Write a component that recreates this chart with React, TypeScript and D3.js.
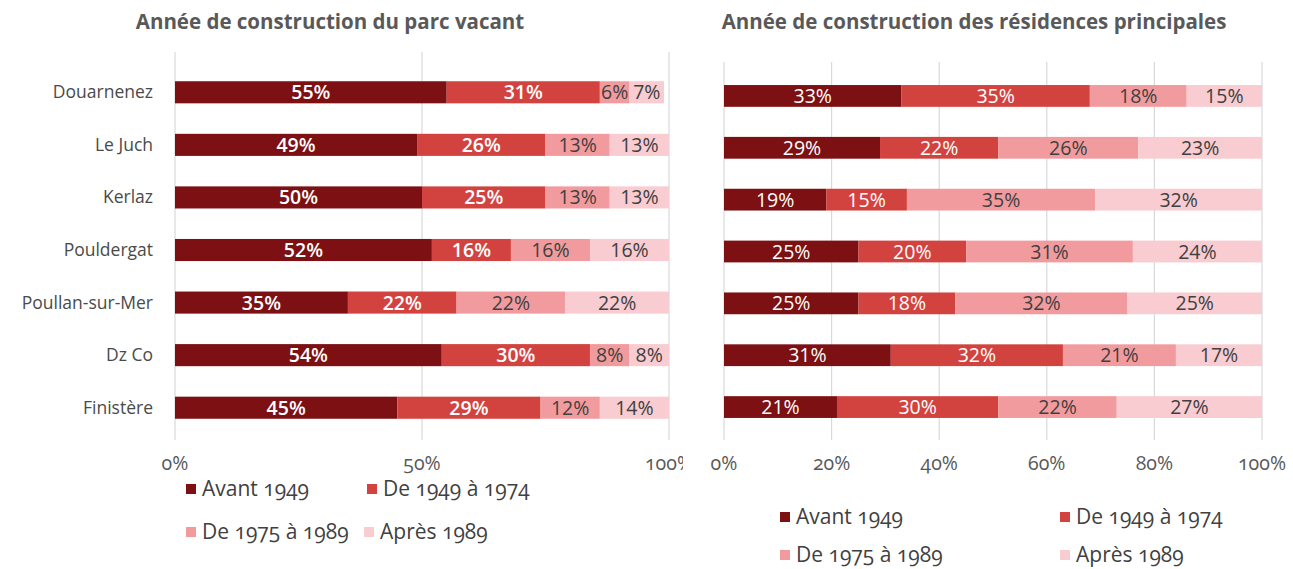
import * as d3 from 'd3'

const categories = ['Douarnenez', 'Le Juch', 'Kerlaz', 'Pouldergat', 'Poullan-sur-Mer', 'Dz Co', 'Finistère']
const seriesNames = ['Avant 1949', 'De 1949 à 1974', 'De 1975 à 1989', 'Après 1989']

// parc vacant
const vacantAvant1949 = [55, 49, 50, 52, 35, 54, 45]
const vacant1949to1974 = [31, 26, 25, 16, 22, 30, 29]
const vacant1975to1989 = [6, 13, 13, 16, 22, 8, 12]
const vacantApres1989 = [7, 13, 13, 16, 22, 8, 14]

// résidences principales
const princAvant1949 = [33, 29, 19, 25, 25, 31, 21]
const princ1949to1974 = [35, 22, 15, 20, 18, 32, 30]
const princ1975to1989 = [18, 26, 35, 31, 32, 21, 22]
const princApres1989 = [15, 23, 32, 24, 25, 17, 27]

const leftTicks = [0, 50, 100]
const rightTicks = [0, 20, 40, 60, 80, 100]

const colors = ['#7c1012', '#d2433f', '#f29b9e', '#f8ccd0']
const labelColors = ['#ffffff', '#ffffff', '#404040', '#404040']
const FONT = "'Open Sans', 'DejaVu Sans', sans-serif"

interface LegendPos { x: number; y: number }

interface PanelProps {
  title: string
  titleX: number
  series: number[][]
  ticks: number[]
  xRange: [number, number]
  yRange: [number, number]
  gridTop: number
  boldFirst: boolean
  showCategories: boolean
  legend: LegendPos[]
  clipRight?: number
  id: string
}

function Panel(p: PanelProps) {
  const x = d3.scaleLinear().domain([0, 100]).range(p.xRange)
  const y = d3.scaleBand<string>().domain(categories).range(p.yRange).paddingInner(0.58).paddingOuter(0.29)
  const bh = y.bandwidth()

  // cumulative stacks per category
  const stacks = categories.map((c, i) => {
    let acc = 0
    return p.series.map((s, k) => {
      const start = acc
      acc += s[i]
      return { k, start, end: Math.min(acc, 100), value: s[i], cat: c }
    })
  })

  return (
    <g clipPath={p.clipRight ? `url(#${p.id})` : undefined}>
      {p.clipRight && (
        <defs>
          <clipPath id={p.id}>
            <rect x={0} y={0} width={p.clipRight} height={569} />
          </clipPath>
        </defs>
      )}
      <text x={p.titleX} y={29} textAnchor="middle" fontFamily={FONT} fontWeight={700} fontSize={20.5} fill="#595959">
        {p.title}
      </text>
      {p.ticks.map(t => (
        <line key={t} x1={x(t)} x2={x(t)} y1={p.gridTop} y2={440} stroke="#d9d9d9" strokeWidth={1.2} />
      ))}
      {stacks.map(row =>
        row.map(seg => (
          <rect key={row[0].cat + seg.k} x={x(seg.start)} y={y(seg.cat)} width={Math.max(0, x(seg.end) - x(seg.start))}
            height={bh} fill={colors[seg.k]} />
        ))
      )}
      {stacks.map(row =>
        row.map(seg => (
          <text key={'l' + row[0].cat + seg.k} x={(x(seg.start) + x(seg.end)) / 2} y={(y(seg.cat) ?? 0) + bh / 2 + 7}
            textAnchor="middle" fontFamily={FONT} fontSize={19.5}
            fontWeight={p.boldFirst && seg.k < 2 ? 600 : 400} fill={labelColors[seg.k]}>
            {seg.value}%
          </text>
        ))
      )}
      {p.showCategories && categories.map(c => (
        <text key={c} x={153} y={(y(c) ?? 0) + bh / 2 + 6} textAnchor="end" fontFamily={FONT} fontSize={17.5} fill="#4a4a4a">
          {c}
        </text>
      ))}
      {p.ticks.map(t => (
        <text key={'t' + t} x={x(t)} y={470} textAnchor="middle" fontFamily={FONT} fontSize={19.5} fill="#595959"
          style={{ fontFeatureSettings: "'onum'" }}>
          {t}%
        </text>
      ))}
      {seriesNames.map((n, k) => (
        <g key={n}>
          <rect x={p.legend[k].x} y={p.legend[k].y - 5} width={10} height={10} fill={colors[k]} />
          <text x={p.legend[k].x + 16} y={p.legend[k].y + 7} fontFamily={FONT} fontSize={21} fill="#404040"
            style={{ fontFeatureSettings: "'onum'" }}>
            {n}
          </text>
        </g>
      ))}
    </g>
  )
}

export default function App() {
  return (
    <svg width={1293} height={569} style={{ position: 'absolute', left: 0, top: 0, background: '#fff' }}>
      <Panel
        id="clipLeft"
        title="Année de construction du parc vacant"
        titleX={330}
        series={[vacantAvant1949, vacant1949to1974, vacant1975to1989, vacantApres1989]}
        ticks={leftTicks}
        xRange={[175, 669]}
        yRange={[66, 434]}
        gridTop={52}
        boldFirst={true}
        showCategories={true}
        legend={[{ x: 186, y: 489 }, { x: 367, y: 489 }, { x: 186, y: 532 }, { x: 364, y: 532 }]}
        clipRight={683}
      />
      <Panel
        id="clipRight"
        title="Année de construction des résidences principales"
        titleX={974}
        series={[princAvant1949, princ1949to1974, princ1975to1989, princApres1989]}
        ticks={rightTicks}
        xRange={[724, 1262]}
        yRange={[70, 433]}
        gridTop={62}
        boldFirst={false}
        showCategories={false}
        legend={[{ x: 780, y: 517 }, { x: 1060, y: 517 }, { x: 780, y: 555 }, { x: 1060, y: 555 }]}
      />
    </svg>
  )
}
